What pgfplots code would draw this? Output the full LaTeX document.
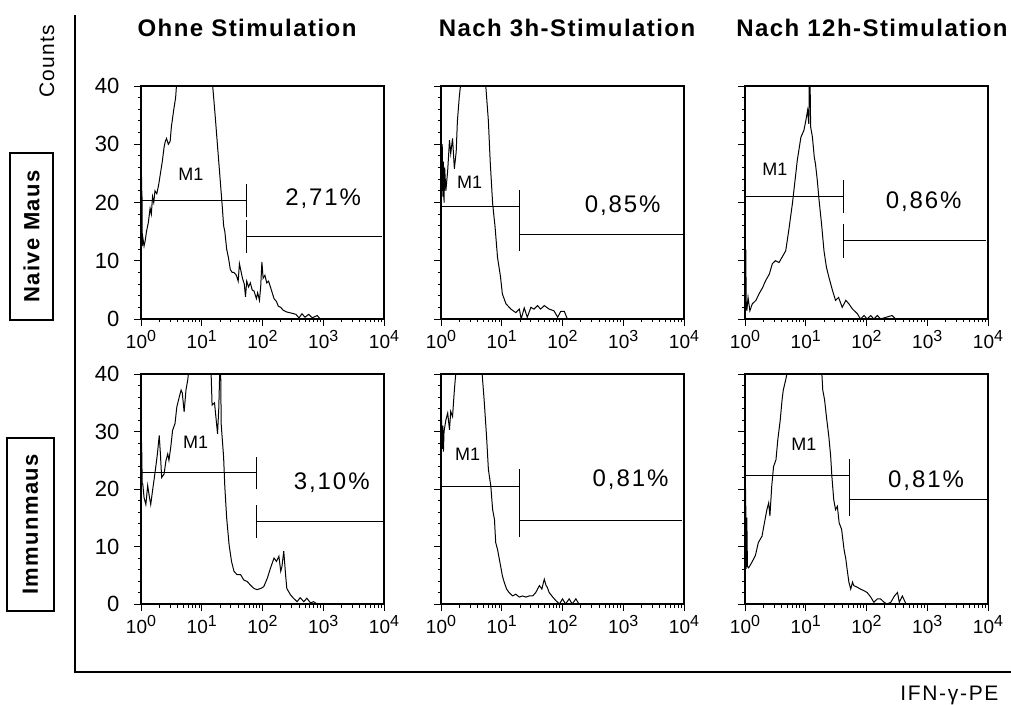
\documentclass[border=0pt]{standalone}
\usepackage{pgfplots}
\pgfplotsset{compat=1.18}
\usepackage{fontspec}
\setmainfont{Liberation Sans}
\newfontfamily\lsp[LetterSpace=8]{Liberation Sans}
\newfontfamily\lspc[LetterSpace=6]{Liberation Sans}
\newfontfamily\lspb[LetterSpace=6]{Liberation Sans Bold}
\newcommand{\xl}[1]{10\raisebox{6.5pt}{\fontsize{16}{16}\selectfont #1}}
\newcommand{\pct}[1]{\fontsize{24}{24}\selectfont\lsp #1}
\newcommand{\mone}{\fontsize{18}{18}\selectfont M1}

\pgfplotsset{
 panel/.style={
   scale only axis, width=243pt, height=233pt,
   anchor=south west,
   xmin=0,xmax=4,ymin=0,ymax=40,
   xtick={0,1,2,3,4},
   xticklabels={\xl{0},\xl{1},\xl{2},\xl{3},\xl{4}},
   minor xtick={0.301,0.477,0.602,0.699,0.778,0.845,0.903,0.954,
                1.301,1.477,1.602,1.699,1.778,1.845,1.903,1.954,
                2.301,2.477,2.602,2.699,2.778,2.845,2.903,2.954,
                3.301,3.477,3.602,3.699,3.778,3.845,3.903,3.954},
   ytick={0,10,20,30,40},
   minor ytick={2,4,6,8,12,14,16,18,22,24,26,28,32,34,36,38},
   tick pos=left,
   tick align=outside,
   major tick length=7pt, minor tick length=3.5pt,
   tick style={black,line width=0.9pt},
   axis line style={line width=1.1pt},
   xticklabel style={font=\fontsize{19}{19}\selectfont, yshift=-1pt},
   yticklabel style={font=\fontsize{22}{22}\selectfont, xshift=-11pt},
 },
 hist/.style={black, line width=1pt, no marks, sharp plot},
 gate/.style={black, line width=1pt, no marks},
}

\begin{document}
\begin{tikzpicture}[x=1pt,y=1pt]
\path[use as bounding box] (0,0) rectangle (1011,704);

% frame
\draw[line width=2.5pt] (75,689) -- (75,32) -- (1011,32);
\node[rotate=90] at (47,643) {\fontsize{21}{21}\selectfont\lspc Counts};
\draw[line width=2.5pt] (10,384) rectangle (53,551);
\node[rotate=90] at (31.5,467.5) {\fontsize{22}{22}\selectfont\lspb Naive Maus};
\draw[line width=2.5pt] (7,93) rectangle (54,266);
\node[rotate=90] at (30.5,179.5) {\fontsize{22}{22}\selectfont\lspb Immunmaus};

% titles
\node[anchor=base] at (247,667) {\fontsize{24}{24}\selectfont\lspb Ohne Stimulation};
\node[anchor=base] at (567,667) {\fontsize{24}{24}\selectfont\lspb Nach 3h-Stimulation};
\node[anchor=base] at (872,667) {\fontsize{24}{24}\selectfont\lspb Nach 12h-Stimulation};
\node[anchor=base east] at (1002,4) {\fontsize{21}{21}\selectfont\lsp IFN-γ-PE};

% ---------- Row 1, Col 1
\begin{axis}[panel, at={(141pt,385pt)}, yticklabels={0,10,20,30,40}]
\addplot[hist] coordinates {(0,26)(0.004,12)(0.008,25)(0.012,13)(0.016,22)(0.02,12.5)(0.03,14)(0.05,12.5)(0.07,13.5)(0.09,15)(0.12,16.5)(0.15,19)(0.17,18)(0.19,21)(0.21,20)(0.23,22)(0.26,21.5)(0.29,23)(0.32,25)(0.35,27)(0.38,29.5)(0.40,30.5)(0.42,31)(0.45,30)(0.48,30.5)(0.50,33)(0.54,36)(0.57,38)(0.59,41)(0.65,45)(1.0,45)(1.16,42)(1.18,40)(1.22,35)(1.25,31)(1.28,27)(1.31,23)(1.34,19)(1.36,16)(1.38,15)(1.41,12)(1.44,10.5)(1.47,8.5)(1.5,8)(1.53,8)(1.57,7.5)(1.60,6.5)(1.62,9.5)(1.64,8.5)(1.67,7)(1.70,6)(1.72,3.8)(1.74,6.5)(1.77,5.5)(1.80,6.2)(1.83,5)(1.86,4.8)(1.90,3.5)(1.92,4.5)(1.95,3.2)(1.97,5.5)(1.99,9.8)(2.01,7)(2.04,7.5)(2.07,6.2)(2.10,6.5)(2.13,5.5)(2.16,4.5)(2.19,3.5)(2.23,3)(2.26,2.2)(2.30,2)(2.34,1.5)(2.40,1.2)(2.48,1)(2.55,0.8)(2.60,0.2)(2.65,0.9)(2.70,0.3)(2.76,0.8)(2.82,0.2)(2.90,0.6)(2.95,0)(4,0)};
\addplot[gate] coordinates {(0,20.3)(1.74,20.3)};
\addplot[gate] coordinates {(1.74,17.45)(1.74,23.15)};
\addplot[gate] coordinates {(1.74,14.2)(3.97,14.2)};
\addplot[gate] coordinates {(1.74,11.35)(1.74,17.05)};
\node at (axis cs:0.82,24.9) {\mone};
\node at (axis cs:3.0,20.6) {\pct{2,71\%}};
\end{axis}

% ---------- Row 1, Col 2
\begin{axis}[panel, at={(441pt,385pt)}, yticklabels={,,,,}]
\addplot[hist] coordinates {(0,29.5)(0.005,20)(0.01,28)(0.015,22)(0.02,30)(0.03,21)(0.04,27)(0.05,20)(0.06,26)(0.08,22)(0.11,25.5)(0.14,30.7)(0.16,28.4)(0.19,31)(0.22,25.8)(0.25,28.7)(0.27,34)(0.30,38)(0.33,41)(0.4,45)(0.7,45)(0.73,41)(0.78,34)(0.81,27)(0.85,19.8)(0.89,15.8)(0.93,10.6)(0.98,7.2)(1.01,4.3)(1.07,2.6)(1.15,1.7)(1.23,1.1)(1.29,1.7)(1.32,0)(1.37,1.9)(1.42,0.3)(1.48,2)(1.53,1.7)(1.59,2.3)(1.64,1.7)(1.70,2.3)(1.78,1.7)(1.86,1.4)(1.92,0.3)(1.97,1.3)(2.03,1.3)(2.08,0)(4,0)};
\addplot[gate] coordinates {(0,19.3)(1.29,19.3)};
\addplot[gate] coordinates {(1.29,16.45)(1.29,22.15)};
\addplot[gate] coordinates {(1.29,14.5)(3.99,14.5)};
\addplot[gate] coordinates {(1.29,11.65)(1.29,17.35)};
\node at (axis cs:0.47,23.5) {\mone};
\node at (axis cs:2.99,19.5) {\pct{0,85\%}};
\end{axis}

% ---------- Row 1, Col 3
\begin{axis}[panel, at={(745pt,385pt)}, yticklabels={,,,,}]
\addplot[hist] coordinates {(0,24.4)(0.004,18.6)(0.008,6)(0.012,12)(0.02,3)(0.03,1.4)(0.05,3.7)(0.08,1.4)(0.12,2.6)(0.18,3.2)(0.23,4.3)(0.29,5.4)(0.34,6.6)(0.40,7.7)(0.45,9.5)(0.50,10)(0.56,9.7)(0.61,10.6)(0.67,11.7)(0.72,15.2)(0.78,19.8)(0.83,24.4)(0.86,27.2)(0.92,31.2)(0.97,32.4)(1.0,34)(1.03,35.8)(1.05,33.5)(1.06,42)(1.07,42)(1.08,33)(1.11,31.2)(1.14,27.8)(1.16,26.6)(1.19,23.8)(1.22,20.3)(1.26,16.3)(1.30,11.7)(1.34,8.9)(1.38,7.2)(1.44,4.9)(1.49,3.2)(1.54,3.7)(1.60,2)(1.66,3.2)(1.71,2.6)(1.77,1.7)(1.85,0.9)(1.90,0)(1.96,0.6)(2.01,0)(2.07,0.6)(2.12,0)(2.18,0.6)(2.23,0)(2.42,0.6)(2.48,0)(4,0)};
\addplot[gate] coordinates {(0,21.0)(1.62,21.0)};
\addplot[gate] coordinates {(1.62,18.15)(1.62,23.85)};
\addplot[gate] coordinates {(1.62,13.4)(3.97,13.4)};
\addplot[gate] coordinates {(1.62,10.55)(1.62,16.25)};
\node at (axis cs:0.49,25.7) {\mone};
\node at (axis cs:2.94,20.2) {\pct{0,86\%}};
\end{axis}

% ---------- Row 2, Col 1
\begin{axis}[panel, at={(141pt,100pt)}, height=230pt, yticklabels={0,10,20,30,40}]
\addplot[hist] coordinates {(0,30.8)(0.005,20.3)(0.01,28)(0.02,21)(0.03,20.8)(0.05,18.5)(0.08,17.3)(0.11,20.6)(0.14,18.5)(0.16,17.3)(0.19,19.7)(0.22,22)(0.25,24.4)(0.27,26.1)(0.30,29.3)(0.32,26)(0.34,22)(0.38,22.6)(0.41,24.9)(0.44,26.1)(0.46,25)(0.49,27.3)(0.52,30.2)(0.56,31.4)(0.59,34.3)(0.63,36)(0.66,37.2)(0.68,36.7)(0.71,33.4)(0.74,37.2)(0.77,39)(0.79,41)(0.85,45)(1.14,45)(1.17,34.6)(1.21,35)(1.26,29.6)(1.28,34)(1.30,42)(1.31,42)(1.32,31.3)(1.36,25.5)(1.38,20.3)(1.41,15)(1.45,10.3)(1.49,7.4)(1.53,5.7)(1.58,5.1)(1.64,5.1)(1.69,4.2)(1.75,3.9)(1.80,3.3)(1.86,2.7)(1.91,2.5)(1.97,2.7)(2.02,3)(2.08,4.5)(2.13,6.2)(2.19,8)(2.23,7.4)(2.27,8.3)(2.30,5.7)(2.32,6.5)(2.35,9.2)(2.38,5.1)(2.40,2.7)(2.46,1.6)(2.51,1)(2.57,0.4)(2.62,1.1)(2.68,0.4)(2.73,1)(2.79,0.2)(2.84,0.4)(2.90,0)(4,0)};
\addplot[gate] coordinates {(0,22.8)(1.90,22.8)};
\addplot[gate] coordinates {(1.90,19.95)(1.90,25.65)};
\addplot[gate] coordinates {(1.90,14.3)(3.99,14.3)};
\addplot[gate] coordinates {(1.90,11.45)(1.90,17.15)};
\node at (axis cs:0.90,28.1) {\mone};
\node at (axis cs:3.14,21.1) {\pct{3,10\%}};
\end{axis}

% ---------- Row 2, Col 2
\begin{axis}[panel, at={(441pt,100pt)}, height=230pt, yticklabels={,,,,}]
\addplot[hist] coordinates {(0,33.2)(0.005,26.5)(0.01,32)(0.02,27)(0.03,31)(0.04,26.5)(0.05,30)(0.08,32)(0.11,33.2)(0.14,30.3)(0.16,33.5)(0.19,32.6)(0.22,37.2)(0.25,41)(0.3,45)(0.64,45)(0.67,41)(0.71,35.5)(0.75,29.1)(0.78,23.4)(0.82,20.5)(0.85,16.4)(0.88,14.7)(0.90,10.7)(0.93,9.5)(0.96,7.8)(0.99,6.1)(1.01,4.9)(1.04,3.8)(1.08,2.6)(1.12,2)(1.18,1.4)(1.23,1.7)(1.29,1.2)(1.34,1.4)(1.40,1.2)(1.45,1.4)(1.51,1.4)(1.56,2)(1.62,3.2)(1.66,2.6)(1.70,4.3)(1.73,3.2)(1.75,2.9)(1.78,2)(1.84,1.2)(1.89,0.6)(1.95,0)(2.0,0.9)(2.05,0)(2.11,0.9)(2.16,0)(2.22,0.9)(2.27,0)(4,0)};
\addplot[gate] coordinates {(0,20.5)(1.29,20.5)};
\addplot[gate] coordinates {(1.29,17.6)(1.29,23.4)};
\addplot[gate] coordinates {(1.29,14.6)(3.97,14.6)};
\addplot[gate] coordinates {(1.29,11.7)(1.29,17.5)};
\node at (axis cs:0.44,26) {\mone};
\node at (axis cs:3.12,21.6) {\pct{0,81\%}};
\end{axis}

% ---------- Row 2, Col 3
\begin{axis}[panel, at={(745pt,100pt)}, height=230pt, yticklabels={,,,,}]
\addplot[hist] coordinates {(0,25.4)(0.005,8)(0.01,20)(0.02,6.1)(0.03,15)(0.04,6.5)(0.06,6.3)(0.11,7.2)(0.17,8.4)(0.22,10.7)(0.28,11.8)(0.33,14.7)(0.36,16.4)(0.39,17.6)(0.41,15.3)(0.44,20.5)(0.47,23.9)(0.51,25.1)(0.54,28.6)(0.58,32)(0.61,35.5)(0.63,37.2)(0.67,39)(0.71,41)(0.75,45)(1.22,45)(1.26,41)(1.28,37.2)(1.31,35.5)(1.34,32.6)(1.38,29.1)(1.41,25.7)(1.43,22.2)(1.46,18.2)(1.49,16.4)(1.52,17)(1.55,14.1)(1.59,13)(1.63,9.5)(1.66,7.8)(1.68,6.1)(1.71,3.8)(1.74,2.6)(1.77,3.8)(1.79,3.2)(1.85,2.9)(1.90,2.6)(1.96,2.3)(2.01,2)(2.07,1.2)(2.12,0.3)(2.18,0.9)(2.23,0.9)(2.29,0.3)(2.34,0)(2.40,0.3)(2.46,1.4)(2.51,2)(2.54,0.3)(2.59,1.4)(2.65,0)(4,0)};
\addplot[gate] coordinates {(0,22.3)(1.72,22.3)};
\addplot[gate] coordinates {(1.72,19.4)(1.72,25.2)};
\addplot[gate] coordinates {(1.72,18.2)(3.98,18.2)};
\addplot[gate] coordinates {(1.72,15.3)(1.72,21.1)};
\node at (axis cs:0.97,27.7) {\mone};
\node at (axis cs:2.98,21.4) {\pct{0,81\%}};
\end{axis}
\end{tikzpicture}
\end{document}
